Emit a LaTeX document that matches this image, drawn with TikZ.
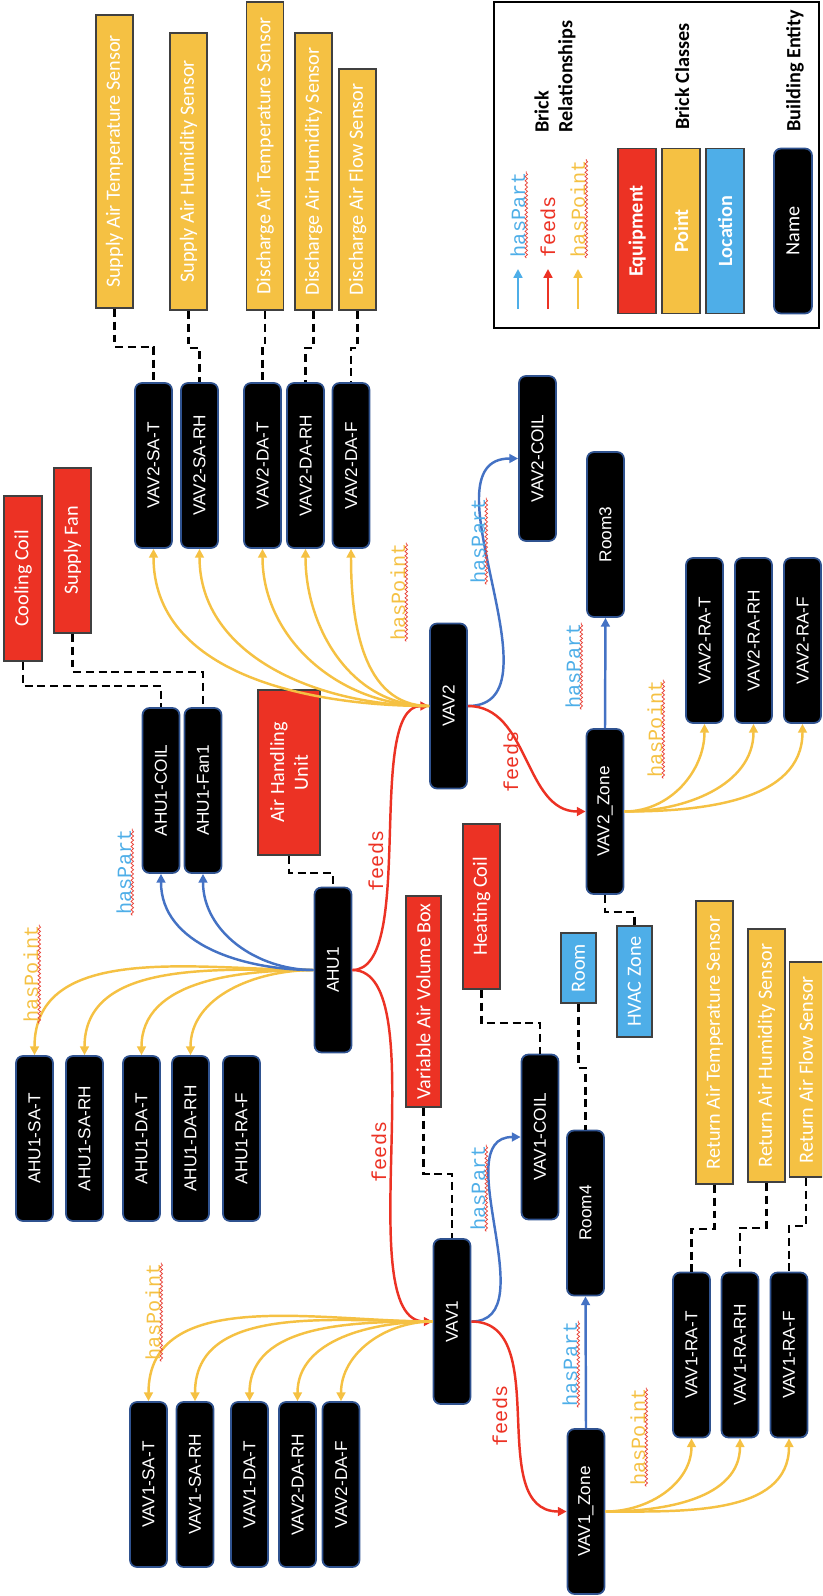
\documentclass[tikz,border=0pt]{standalone}
\usepackage{fontspec}
\setmainfont{Carlito}
\newfontfamily\entfont{Liberation Sans}
\newfontfamily\relfont{Liberation Mono}
\usepackage{tikz}
\usetikzlibrary{arrows.meta,decorations.pathmorphing}
\usepackage{xcolor}
\definecolor{eqred}{RGB}{236,50,36}
\definecolor{ptyellow}{RGB}{245,193,67}
\definecolor{locblue}{RGB}{78,174,232}
\definecolor{partblue}{RGB}{68,114,196}
\definecolor{entborder}{RGB}{47,82,143}
\definecolor{boxedge}{RGB}{64,64,64}
\definecolor{wavyred}{RGB}{232,70,60}

\begin{document}
\begin{tikzpicture}[x=0.02cm,y=0.02cm,>={Triangle[length=5pt,width=5pt]},
  ent/.style={rotate=90,fill=black,draw=entborder,line width=1pt,rounded corners=0.14cm,text=white,font=\entfont\fontsize{9.8}{11}\selectfont,minimum width=3.3cm,minimum height=0.74cm,inner sep=0pt},
  cls/.style={rotate=90,draw=boxedge,line width=1pt,text=white,font=\fontsize{11.5}{13.5}\selectfont,minimum height=0.74cm,inner sep=2pt},
  equip/.style={cls,fill=eqred},
  ptbox/.style={cls,fill=ptyellow},
  locbox/.style={cls,fill=locblue},
  rel/.style={rotate=90,font=\relfont\fontsize{11.5}{13}\selectfont,inner sep=0.3pt},
  wavy/.style={draw=wavyred,line width=0.45pt,decorate,decoration={snake,amplitude=0.7pt,segment length=2.4pt}},
  squig/.style={append after command={(\tikzlastnode.south west) edge[wavy] (\tikzlastnode.south east)}},
  lgtitle/.style={rotate=90,font=\bfseries\fontsize{11.5}{13.6}\selectfont,inner sep=0pt},
  haspart/.style={->,draw=partblue,line width=1.4pt},
  feeds/.style={->,draw=eqred,line width=1.4pt},
  haspoint/.style={->,draw=ptyellow,line width=1.4pt},
  dashc/.style={draw=black,line width=1.4pt,dash pattern=on 4.5pt off 2.8pt}]
\useasboundingbox (0,0) rectangle (822,-1596);
\clip (0,0) rectangle (822,-1596);

% legend
\draw[line width=1.2pt] (494,-2) rectangle (819,-328);
\coordinate (lgpartA) at (518,-309);
\coordinate (lgpartB) at (518,-269);
\coordinate (lgfeedA) at (548,-309);
\coordinate (lgfeedB) at (548,-269);
\coordinate (lgptA) at (578,-309);
\coordinate (lgptB) at (578,-269);
\draw[->,draw=locblue,line width=1.4pt] (lgpartA) -- (lgpartB);
\draw[->,draw=eqred,line width=1.4pt] (lgfeedA) -- (lgfeedB);
\draw[->,draw=ptyellow,line width=1.4pt] (lgptA) -- (lgptB);
\node[rel,squig,text=locblue,anchor=west] (lghaspart) at (518,-258) {hasPart};
\node[rel,text=eqred,anchor=west] (lgfeeds) at (548,-258) {feeds};
\node[rel,squig,text=ptyellow,anchor=west] (lghaspoint) at (578,-258) {hasPoint};
\node[lgtitle,align=left,anchor=west] (lgrel) at (555,-133) {Brick\\Relationships};
\node[lgtitle,anchor=west] (lgcls) at (682,-130) {Brick Classes};
\node[lgtitle,anchor=west] (lgent) at (795,-132) {Building Entity};
\node[equip,font=\bfseries\fontsize{11.5}{13.5}\selectfont,minimum width=3.3cm,minimum height=0.76cm] (lgequip) at (637,-231) {Equipment};
\node[ptbox,font=\bfseries\fontsize{11.5}{13.5}\selectfont,minimum width=3.3cm,minimum height=0.76cm] (lgpoint) at (681,-231) {Point};
\node[locbox,font=\bfseries\fontsize{11.5}{13.5}\selectfont,minimum width=3.3cm,minimum height=0.76cm] (lgloc) at (725,-231) {Location};
\node[ent,font=\fontsize{11.5}{13.5}\selectfont,minimum height=0.76cm] (lgname) at (793,-231) {Name};

% brick classes
\node[ptbox,minimum width=5.86cm] (sasT) at (114.5,-161.5) {Supply Air Temperature Sensor};
\node[ptbox,minimum width=5.54cm] (sasH) at (188.5,-171.5) {Supply Air Humidity Sensor};
\node[ptbox,minimum width=6.16cm] (dasT) at (265,-156) {Discharge Air Temperature Sensor};
\node[ptbox,minimum width=5.54cm] (dasH) at (313.5,-171.5) {Discharge Air Humidity Sensor};
\node[ptbox,minimum width=4.82cm] (dasF) at (357.5,-189.5) {Discharge Air Flow Sensor};
\node[equip,minimum width=3.3cm,minimum height=0.76cm] (coolcoil) at (23,-578.5) {Cooling Coil};
\node[equip,minimum width=3.3cm] (supfan) at (72.5,-550.5) {Supply Fan};
\node[equip,align=center,minimum width=3.3cm,minimum height=1.24cm] (ahuclass) at (289,-772.5) {Air Handling\\Unit};
\node[equip,minimum width=4.22cm,minimum height=0.7cm] (vavbox) at (423.5,-1001.5) {Variable Air Volume Box};
\node[equip,minimum width=3.3cm] (heatcoil) at (481.5,-906.5) {Heating Coil};
\node[locbox,minimum width=1.4cm,minimum height=0.7cm] (roomcls) at (578.5,-968) {Room};
\node[locbox,minimum width=2.22cm,minimum height=0.7cm] (hvaczone) at (634.5,-981.5) {HVAC Zone};
\node[ptbox,minimum width=5.66cm] (rasT) at (714.5,-1042.5) {Return Air Temperature Sensor};
\node[ptbox,minimum width=5.06cm] (rasH) at (766.5,-1055.5) {Return Air Humidity Sensor};
\node[ptbox,minimum width=4.3cm,minimum height=0.66cm] (rasF) at (806,-1069.5) {Return Air Flow Sensor};

% building entities
\node[ent] (vav2sat) at (153.5,-465.5) {VAV2-SA-T};
\node[ent] (vav2sarh) at (199.5,-465.5) {VAV2-SA-RH};
\node[ent] (vav2dat) at (262.5,-465.5) {VAV2-DA-T};
\node[ent] (vav2darh) at (305.5,-465.5) {VAV2-DA-RH};
\node[ent] (vav2daf) at (351,-465.5) {VAV2-DA-F};
\node[ent] (ahucoil) at (161,-790.5) {AHU1-COIL};
\node[ent] (ahufan) at (203,-790.5) {AHU1-Fan1};
\node[ent] (ahu) at (333,-970) {AHU1};
\node[ent] (ahusat) at (34.5,-1138.5) {AHU1-SA-T};
\node[ent] (ahusarh) at (84.5,-1138.5) {AHU1-SA-RH};
\node[ent] (ahudat) at (141.5,-1138.5) {AHU1-DA-T};
\node[ent] (ahudarh) at (190.5,-1138.5) {AHU1-DA-RH};
\node[ent] (ahuraf) at (241.5,-1138.5) {AHU1-RA-F};
\node[ent] (vav2) at (448.5,-706) {VAV2};
\node[ent] (vav2coil) at (537.5,-458.5) {VAV2-COIL};
\node[ent] (room3) at (605.5,-534.5) {Room3};
\node[ent] (zone2) at (605,-811.5) {VAV2\_Zone};
\node[ent] (vav2rat) at (704.5,-640.5) {VAV2-RA-T};
\node[ent] (vav2rarh) at (753.5,-640.5) {VAV2-RA-RH};
\node[ent] (vav2raf) at (802.5,-640.5) {VAV2-RA-F};
\node[ent] (vav1) at (452,-1321.5) {VAV1};
\node[ent] (vav1coil) at (540,-1137) {VAV1-COIL};
\node[ent] (room4) at (585.5,-1213) {Room4};
\node[ent] (zone1) at (586,-1511.5) {VAV1\_Zone};
\node[ent] (vav1rat) at (691.5,-1355) {VAV1-RA-T};
\node[ent] (vav1rarh) at (740,-1355) {VAV1-RA-RH};
\node[ent] (vav1raf) at (789,-1355) {VAV1-RA-F};
\node[ent] (vav1sat) at (148.5,-1484.5) {VAV1-SA-T};
\node[ent] (vav1sarh) at (195,-1484.5) {VAV1-SA-RH};
\node[ent] (vav1dat) at (249.5,-1484.5) {VAV1-DA-T};
\node[ent] (vav1darh) at (297.5,-1484.5) {VAV2-DA-RH};
\node[ent] (vav1daf) at (341,-1484.5) {VAV2-DA-F};

% class links
\draw[dashc] (sasT.west) -- ++(0,-38) -| (vav2sat.east);
\draw[dashc] (sasH.west) -- ++(0,-37) -| (vav2sarh.east);
\draw[dashc] (dasT.west) -- ++(0,-37) -| (vav2dat.east);
\draw[dashc] (dasH.west) -- ++(0,-37) -| (vav2darh.east);
\draw[dashc] (dasF.west) -- ++(0,-37) -| (vav2daf.east);
\draw[dashc] (coolcoil.west) -- ++(0,-24) -| (ahucoil.east);
\draw[dashc] (supfan.west) -- ++(0,-38) -| (ahufan.east);
\draw[dashc] (ahuclass.west) -- ++(0,-17) -| (ahu.east);
\draw[dashc] (heatcoil.west) -- ++(0,-33) -| (vav1coil.east);
\draw[dashc] (vavbox.west) -- ++(0,-66) -| (vav1.east);
\draw[dashc] (zone2.west) -- ++(0,-17) -| (hvaczone.east);
\draw[dashc] (roomcls.west) -- ++(0,-64) -| (room4.east);
\draw[dashc] (rasT.west) -- ++(0,-44) -| (vav1rat.east);
\draw[dashc] (rasH.west) -- ++(0,-45) -| (vav1rarh.east);
\draw[dashc] (rasF.west) -- ++(0,-48) -| (vav1raf.east);

% AHU1
\draw[haspoint] (ahu.north) to[out=180,in=90] (ahusat.east);
\draw[haspoint] (ahu.north) to[out=180,in=90] (ahusarh.east);
\draw[haspoint] (ahu.north) to[out=180,in=90] (ahudat.east);
\draw[haspoint] (ahu.north) to[out=180,in=90] (ahudarh.east);
\draw[haspart] (ahu.north) to[out=180,in=-90] (ahucoil.west);
\draw[haspart] (ahu.north) to[out=180,in=-90] (ahufan.west);
\draw[feeds] (ahu.south) to[out=0,in=180,looseness=0.6] (vav2.north);
\draw[feeds] (ahu.south) to[out=0,in=180,looseness=0.6] (vav1.north);

% VAV2
\draw[haspoint] (vav2.north) to[out=180,in=-90] (vav2sat.west);
\draw[haspoint] (vav2.north) to[out=180,in=-90] (vav2sarh.west);
\draw[haspoint] (vav2.north) to[out=180,in=-90] (vav2dat.west);
\draw[haspoint] (vav2.north) to[out=180,in=-90] (vav2darh.west);
\draw[haspoint] (vav2.north) to[out=180,in=-90] (vav2daf.west);
\draw[haspart] (vav2.south) to[out=0,in=180] (vav2coil.north);
\draw[feeds] (vav2.south) to[out=0,in=180] (zone2.north);
\draw[haspart] (zone2.east) -- (room3.west);
\draw[haspoint] (zone2.south) to[out=0,in=-90] (vav2rat.west);
\draw[haspoint] (zone2.south) to[out=0,in=-90] (vav2rarh.west);
\draw[haspoint] (zone2.south) to[out=0,in=-90] (vav2raf.west);

% VAV1
\draw[haspoint] (vav1.north) to[out=180,in=90] (vav1sat.east);
\draw[haspoint] (vav1.north) to[out=180,in=90] (vav1sarh.east);
\draw[haspoint] (vav1.north) to[out=180,in=90] (vav1dat.east);
\draw[haspoint] (vav1.north) to[out=180,in=90] (vav1darh.east);
\draw[haspoint] (vav1.north) to[out=180,in=90] (vav1daf.east);
\draw[haspart] (vav1.south) to[out=0,in=180] (vav1coil.north);
\draw[feeds] (vav1.south) to[out=0,in=180] (zone1.north);
\draw[haspart] (zone1.east) -- (room4.west);
\draw[haspoint] (zone1.south) to[out=0,in=-90] (vav1rat.west);
\draw[haspoint] (zone1.south) to[out=0,in=-90] (vav1rarh.west);
\draw[haspoint] (zone1.south) to[out=0,in=-90] (vav1raf.west);

% relationship labels
\node[rel,squig,text=ptyellow] (lbahupt) at (31,-974) {hasPoint};
\node[rel,squig,text=locblue] (lbahupart) at (124,-872) {hasPart};
\node[rel,text=eqred] (lbfeedsup) at (376,-861) {feeds};
\node[rel,text=eqred] (lbfeedsdn) at (379,-1152) {feeds};
\node[rel,squig,text=ptyellow] (lbvavtwopt) at (398,-592) {hasPoint};
\node[rel,squig,text=locblue] (lbvavtwopart) at (478,-541) {hasPart};
\node[rel,text=eqred] (lbvavtwofeeds) at (511,-762) {feeds};
\node[rel,squig,text=locblue] (lbzonetwopart) at (573,-666) {hasPart};
\node[rel,squig,text=ptyellow] (lbzonetwopt) at (655,-729) {hasPoint};
\node[rel,squig,text=locblue] (lbvavonepart) at (478,-1188) {hasPart};
\node[rel,text=eqred] (lbvavonefeeds) at (500,-1416) {feeds};
\node[rel,squig,text=locblue] (lbzoneonepart) at (570,-1364) {hasPart};
\node[rel,squig,text=ptyellow] (lbzoneonept) at (638,-1437) {hasPoint};
\node[rel,squig,text=ptyellow] (lbvavonept) at (153,-1312) {hasPoint};
\end{tikzpicture}
\end{document}
